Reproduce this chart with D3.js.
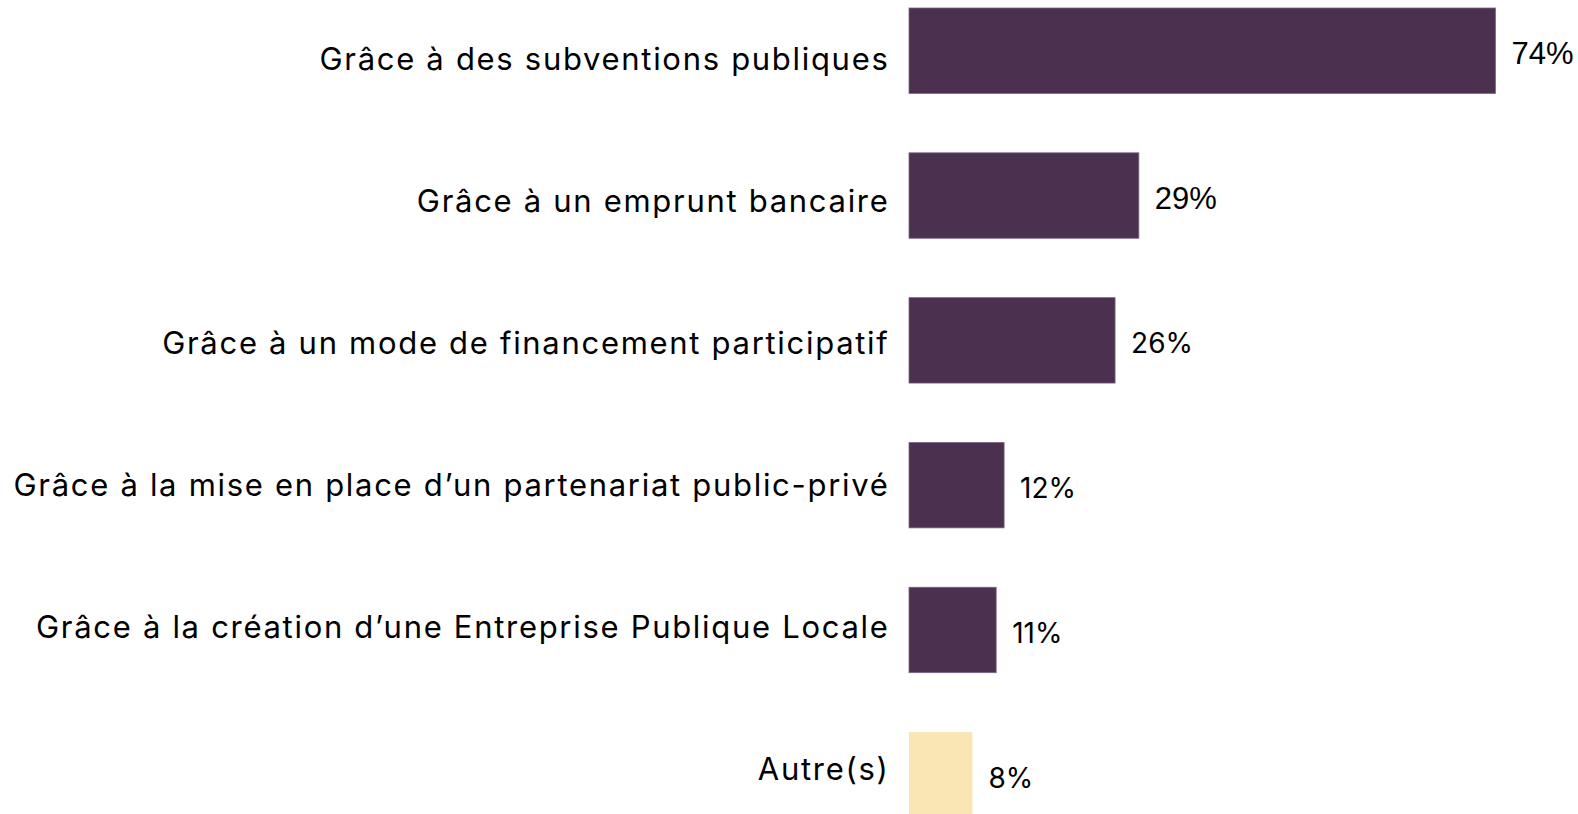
<!DOCTYPE html>
<html>
<head>
<meta charset="utf-8">
<script src="https://cdn.jsdelivr.net/npm/d3@7"></script>
<style>
    html, body { margin: 0; padding: 0; background: #ffffff; overflow: hidden; }
</style>
</head>
<body>
<svg id="chart"></svg>
<script>
// Chart data
const categories = [
    "Grâce à des subventions publiques",
    "Grâce à un emprunt bancaire",
    "Grâce à un mode de financement participatif",
    "Grâce à la mise en place d’un partenariat public-privé",
    "Grâce à la création d’une Entreprise Publique Locale",
    "Autre(s)"
];
const values = [74, 29, 26, 12, 11, 8];
const valueLabels = ["74%", "29%", "26%", "12%", "11%", "8%"];

/*
 * Global object with dimension data for rendering
 */
const dimensions = {
    width: 1578,
    height: 814,
    barLeft: 909,
    barRight: 1495.5,
    top: 8,
    bottom: 817.5
};

function chart(id) {
    const svg = d3.select('#' + id)
        .attr("width", dimensions.width)
        .attr("height", dimensions.height);

    let x = d3.scaleLinear()
        .domain([0, d3.max(values)])
        .range([dimensions.barLeft, dimensions.barRight]);

    let y = d3.scaleBand()
        .domain(categories)
        .range([dimensions.top, dimensions.bottom])
        .paddingInner(0.41)
        .paddingOuter(0);

    // category labels sit on a slightly tighter grid than the bars
    let yLabel = d3.scalePoint()
        .domain(categories)
        .range([70, 780]);

    // Bars
    svg.append("g")
        .selectAll("rect")
        .data(categories)
        .join("rect")
        .attr("x", x(0))
        .attr("y", d => y(d))
        .attr("width", (d, i) => x(values[i]) - x(0))
        .attr("height", y.bandwidth())
        .attr("fill", d => d === "Autre(s)" ? "#fae6b4" : "#4b3050")
        .attr("stroke", d => d === "Autre(s)" ? "none" : "#7d6585")
        .attr("stroke-width", 0.8);

    // Category labels
    svg.append("g")
        .selectAll("text")
        .data(categories)
        .join("text")
        .attr("x", 889.5)
        .attr("y", d => yLabel(d))
        .attr("text-anchor", "end")
        .style("font-family", "Inter")
        .style("font-size", "31px")
        .style("letter-spacing", "1.7px")
        .style("fill", "#000")
        .text(d => d);

    // Value labels
    svg.append("g")
        .selectAll("text")
        .data(categories)
        .join("text")
        .attr("x", (d, i) => x(values[i]) + 16)
        .attr("y", d => y(d) + y.bandwidth() / 2 + 13)
        .style("font-family", (d, i) => i < 2 ? "Liberation Sans" : "Inter")
        .style("font-size", (d, i) => i < 2 ? "31px" : "28px")
        .style("fill", "#000")
        .text((d, i) => valueLabels[i]);
}

chart("chart");
</script>
</body>
</html>
